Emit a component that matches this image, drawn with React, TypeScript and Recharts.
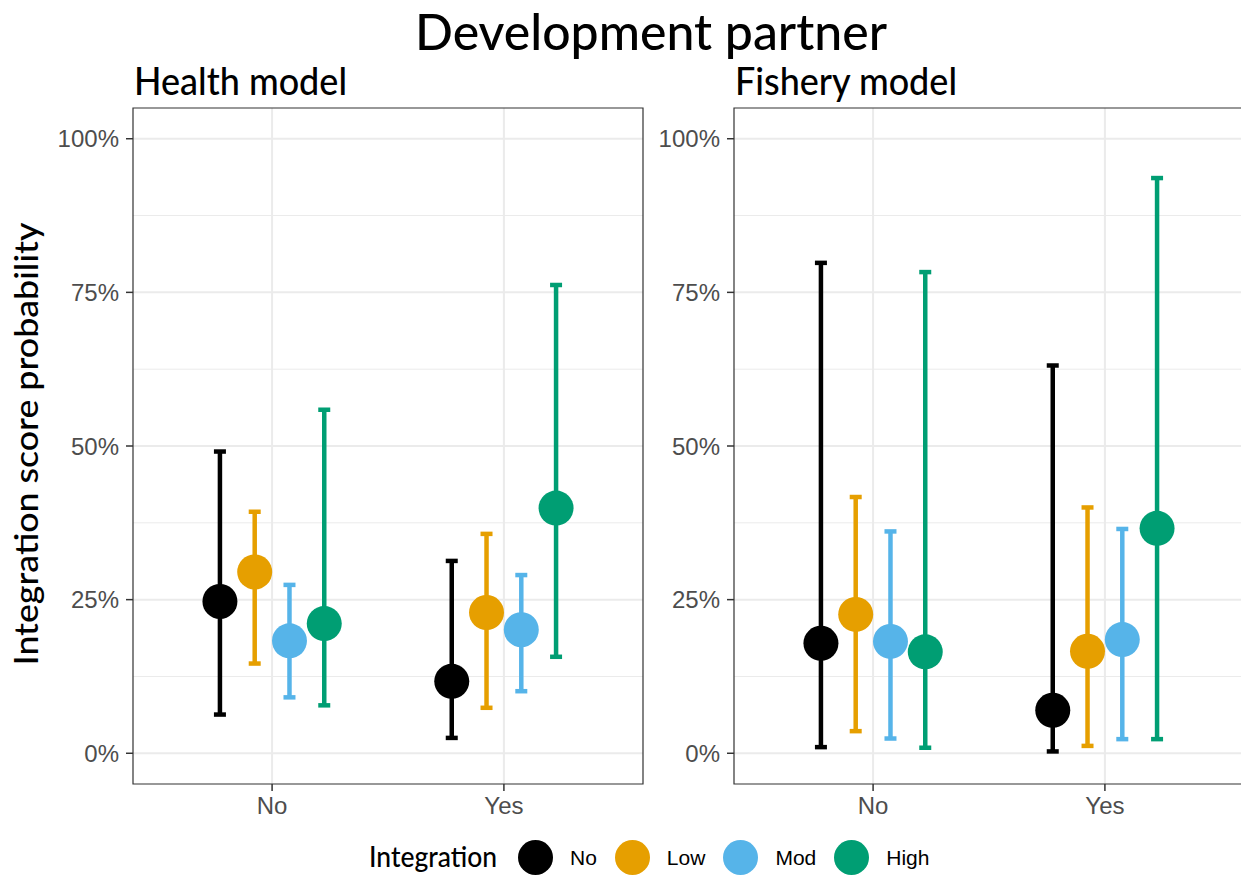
import React from 'react';
import { ScatterChart, Scatter, XAxis, YAxis, ErrorBar, CartesianGrid, ReferenceArea } from 'recharts';

const categories = ['No', 'Yes'];
const levels = ['No', 'Low', 'Mod', 'High'];
const levelColors = ['#000000', '#E69F00', '#56B4E9', '#009E73'];
const yTicks = [0, 25, 50, 75, 100];
const minorTicks = [12.5, 37.5, 62.5, 87.5];

// rows = development partner (No, Yes); columns = integration level (No, Low, Mod, High)
const healthEstimate = [[24.7, 29.5, 18.3, 21.1], [11.7, 22.9, 20.1, 39.9]];
const healthLower = [[6.3, 14.6, 9.1, 7.8], [2.5, 7.4, 10.1, 15.7]];
const healthUpper = [[49.1, 39.3, 27.4, 55.9], [31.3, 35.7, 29.0, 76.2]];

const fisheryEstimate = [[17.9, 22.6, 18.2, 16.5], [7.0, 16.6, 18.5, 36.6]];
const fisheryLower = [[1.0, 3.6, 2.4, 0.9], [0.3, 1.2, 2.3, 2.3]];
const fisheryUpper = [[79.8, 41.7, 36.1, 78.3], [63.1, 40.0, 36.5, 93.6]];

const DODGE = 0.6;
const TICK_FONT = "'Liberation Sans', Arial, sans-serif";
const TITLE_FONT = "Lato, 'Open Sans', sans-serif";

function seriesData(est: number[][], lo: number[][], hi: number[][], li: number) {
  return categories.map((c, ci) => ({
    x: ci + 1 + (li - (levels.length - 1) / 2) * (DODGE / levels.length),
    y: est[ci][li],
    err: [est[ci][li] - lo[ci][li], hi[ci][li] - est[ci][li]],
    cat: c,
  }));
}

function Panel(props: {
  left: number;
  width: number;
  yAxisWidth: number;
  marginRight: number;
  est: number[][];
  lo: number[][];
  hi: number[][];
}) {
  const { left, width, yAxisWidth, marginRight, est, lo, hi } = props;
  return (
    <div style={{ position: 'absolute', left, top: 0 }}>
      <ScatterChart
        width={width}
        height={850}
        margin={{ top: 108, right: marginRight, bottom: 0, left: 0 }}
      >
        <CartesianGrid
          stroke="#ebebeb"
          strokeWidth={1}
          vertical={false}
          horizontalValues={minorTicks}
        />
        <CartesianGrid
          stroke="#ebebeb"
          strokeWidth={2}
          horizontalValues={yTicks}
          verticalValues={[1, 2]}
        />
        <XAxis
          type="number"
          dataKey="x"
          domain={[0.4, 2.6]}
          ticks={[1, 2]}
          interval={0}
          allowDataOverflow
          tickFormatter={(v: number) => categories[Math.round(v) - 1]}
          height={66}
          tickSize={7}
          tickMargin={6}
          axisLine={false}
          tickLine={{ stroke: '#333333', strokeWidth: 1.5 }}
          tick={{ fill: '#4d4d4d', fontSize: 24, fontFamily: TICK_FONT }}
        />
        <YAxis
          type="number"
          dataKey="y"
          domain={[-5, 105]}
          ticks={yTicks}
          interval={0}
          allowDataOverflow
          width={yAxisWidth}
          tickFormatter={(v: number) => `${v}%`}
          tickSize={7}
          tickMargin={7}
          axisLine={false}
          tickLine={{ stroke: '#333333', strokeWidth: 1.5 }}
          tick={{ fill: '#4d4d4d', fontSize: 24, fontFamily: TICK_FONT }}
        />
        {levels.map((lv, li) => (
          <Scatter
            key={lv}
            name={lv}
            data={seriesData(est, lo, hi, li)}
            fill={levelColors[li]}
            isAnimationActive={false}
            shape={(p: any) => <circle cx={p.cx} cy={p.cy} r={17.5} fill={levelColors[li]} />}
          >
            <ErrorBar
              dataKey="err"
              direction="y"
              width={6}
              stroke={levelColors[li]}
              strokeWidth={4.5}
              isAnimationActive={false}
            />
          </Scatter>
        ))}
        <ReferenceArea
          x1={0.4}
          x2={2.6}
          y1={-5}
          y2={105}
          fill="none"
          fillOpacity={0}
          stroke="#333333"
          strokeWidth={1.2}
          ifOverflow="visible"
        />
      </ScatterChart>
    </div>
  );
}

export default function App() {
  return (
    <div
      style={{
        position: 'absolute',
        left: 0,
        top: 0,
        width: 1241,
        height: 876,
        overflow: 'hidden',
        background: '#ffffff',
      }}
    >
      <Panel left={0} width={660} yAxisWidth={133} marginRight={17} est={healthEstimate} lo={healthLower} hi={healthUpper} />
      <Panel left={650} width={610} yAxisWidth={84} marginRight={16} est={fisheryEstimate} lo={fisheryLower} hi={fisheryUpper} />
      <svg
        width={1241}
        height={876}
        style={{ position: 'absolute', left: 0, top: 0, pointerEvents: 'none' }}
      >
        <text x={651} y={50} textAnchor="middle" fontSize={50} fontWeight={500} fontFamily={TITLE_FONT} fill="#000" textLength={472} lengthAdjust="spacingAndGlyphs">
          Development partner
        </text>
        <text x={134} y={95} fontSize={38} fontWeight={500} fontFamily={TITLE_FONT} fill="#000" textLength={213} lengthAdjust="spacingAndGlyphs">
          Health model
        </text>
        <text x={735} y={95} fontSize={38} fontWeight={500} fontFamily={TITLE_FONT} fill="#000" textLength={222} lengthAdjust="spacingAndGlyphs">
          Fishery model
        </text>
        <text
          transform="translate(38, 444) rotate(-90)"
          textAnchor="middle"
          fontSize={32}
          fontWeight={500}
          fontFamily={TITLE_FONT}
          fill="#000"
          textLength={443}
          lengthAdjust="spacingAndGlyphs"
        >
          Integration score probability
        </text>
        <text x={369} y={867} fontSize={29} fontWeight={500} fontFamily={TITLE_FONT} fill="#000" textLength={128} lengthAdjust="spacingAndGlyphs">
          Integration
        </text>
      </svg>
      <div
        style={{
          position: 'absolute',
          left: 518,
          top: 840,
          height: 35,
          display: 'flex',
          alignItems: 'center',
          fontFamily: TICK_FONT,
          fontSize: 21,
          color: '#000',
        }}
      >
        {levels.map((lv, li) => (
          <div key={lv} style={{ display: 'flex', alignItems: 'center', marginRight: 18 }}>
            <svg width={35} height={35}>
              <circle cx={17.5} cy={17.5} r={17.5} fill={levelColors[li]} />
            </svg>
            <span style={{ marginLeft: 17, lineHeight: '35px' }}>{lv}</span>
          </div>
        ))}
      </div>
    </div>
  );
}
